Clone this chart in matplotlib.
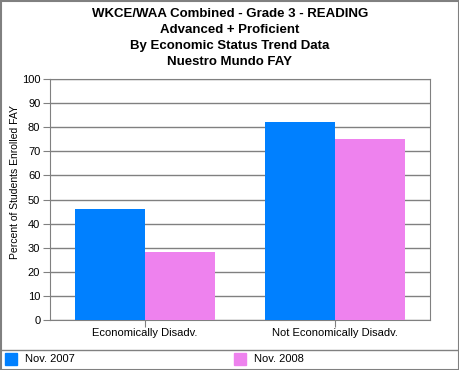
import numpy as np
import matplotlib.pyplot as plt
from matplotlib.patches import Rectangle
from matplotlib.lines import Line2D

plt.rcParams['font.family'] = ['Liberation Sans', 'DejaVu Sans']

CATS = ['Economically Disadv.', 'Not Economically Disadv.']
SERIES = ['Nov. 2007', 'Nov. 2008']
V2007 = [46.2, 82.0]
V2008 = [28.3, 75.0]
COLORS = ['#0080ff', '#ee82ee']
TITLE = 'WKCE/WAA Combined - Grade 3 - READING\nAdvanced + Proficient\nBy Economic Status Trend Data\nNuestro Mundo FAY'

W, H = 460, 370
fig = plt.figure(figsize=(W/100, H/100), dpi=100)
fig.patch.set_facecolor('white')

ax = fig.add_axes([50/W, 1-320/H, 380/W, 241/H])
x = np.arange(len(CATS))
w = 0.368
ax.bar(x-w/2, V2007, w, color=COLORS[0], zorder=3)
ax.bar(x+w/2, V2008, w, color=COLORS[1], zorder=3)
ax.set_xlim(-0.5, 1.5); ax.set_ylim(0, 100)
ax.set_yticks(range(0, 101, 10))
ax.set_xticks(x); ax.set_xticklabels(CATS, fontsize=8)
ax.tick_params(axis='y', labelsize=8, length=5, color='#808080', pad=2)
ax.tick_params(axis='x', length=5, color='#808080', pad=1)
ax.yaxis.grid(True, color='#808080', lw=1, zorder=0)
for s in ax.spines.values():
    s.set_color('#808080')
fig.text(15/W, 1-182/H, 'Percent of Students Enrolled FAY', rotation=90,
         ha='center', va='center', fontsize=7.5)

# title lines centred at about y = 14, 30, 46, 62 px
fig.text(230/W, 1-38/H, TITLE, ha='center', va='center', fontsize=9.5,
         fontweight='bold', linespacing=1.45)

# legend strip
fig.add_artist(Line2D([0, 1], [1-350/H]*2, color='#808080', lw=1))
for xs, col, lbl in [(5, COLORS[0], SERIES[0]), (234, COLORS[1], SERIES[1])]:
    fig.add_artist(Rectangle((xs/W, 1-365/H), 12/W, 12/H, color=col, transform=fig.transFigure))
    fig.text((xs+20)/W, 1-359/H, lbl, va='center', fontsize=8)

fig.add_artist(Rectangle((0.5/W, 0.5/H), 1-1/W, 1-1/H, fill=False, ec='#808080', lw=1.5,
                         transform=fig.transFigure))
fig.savefig('out.png', dpi=100)
